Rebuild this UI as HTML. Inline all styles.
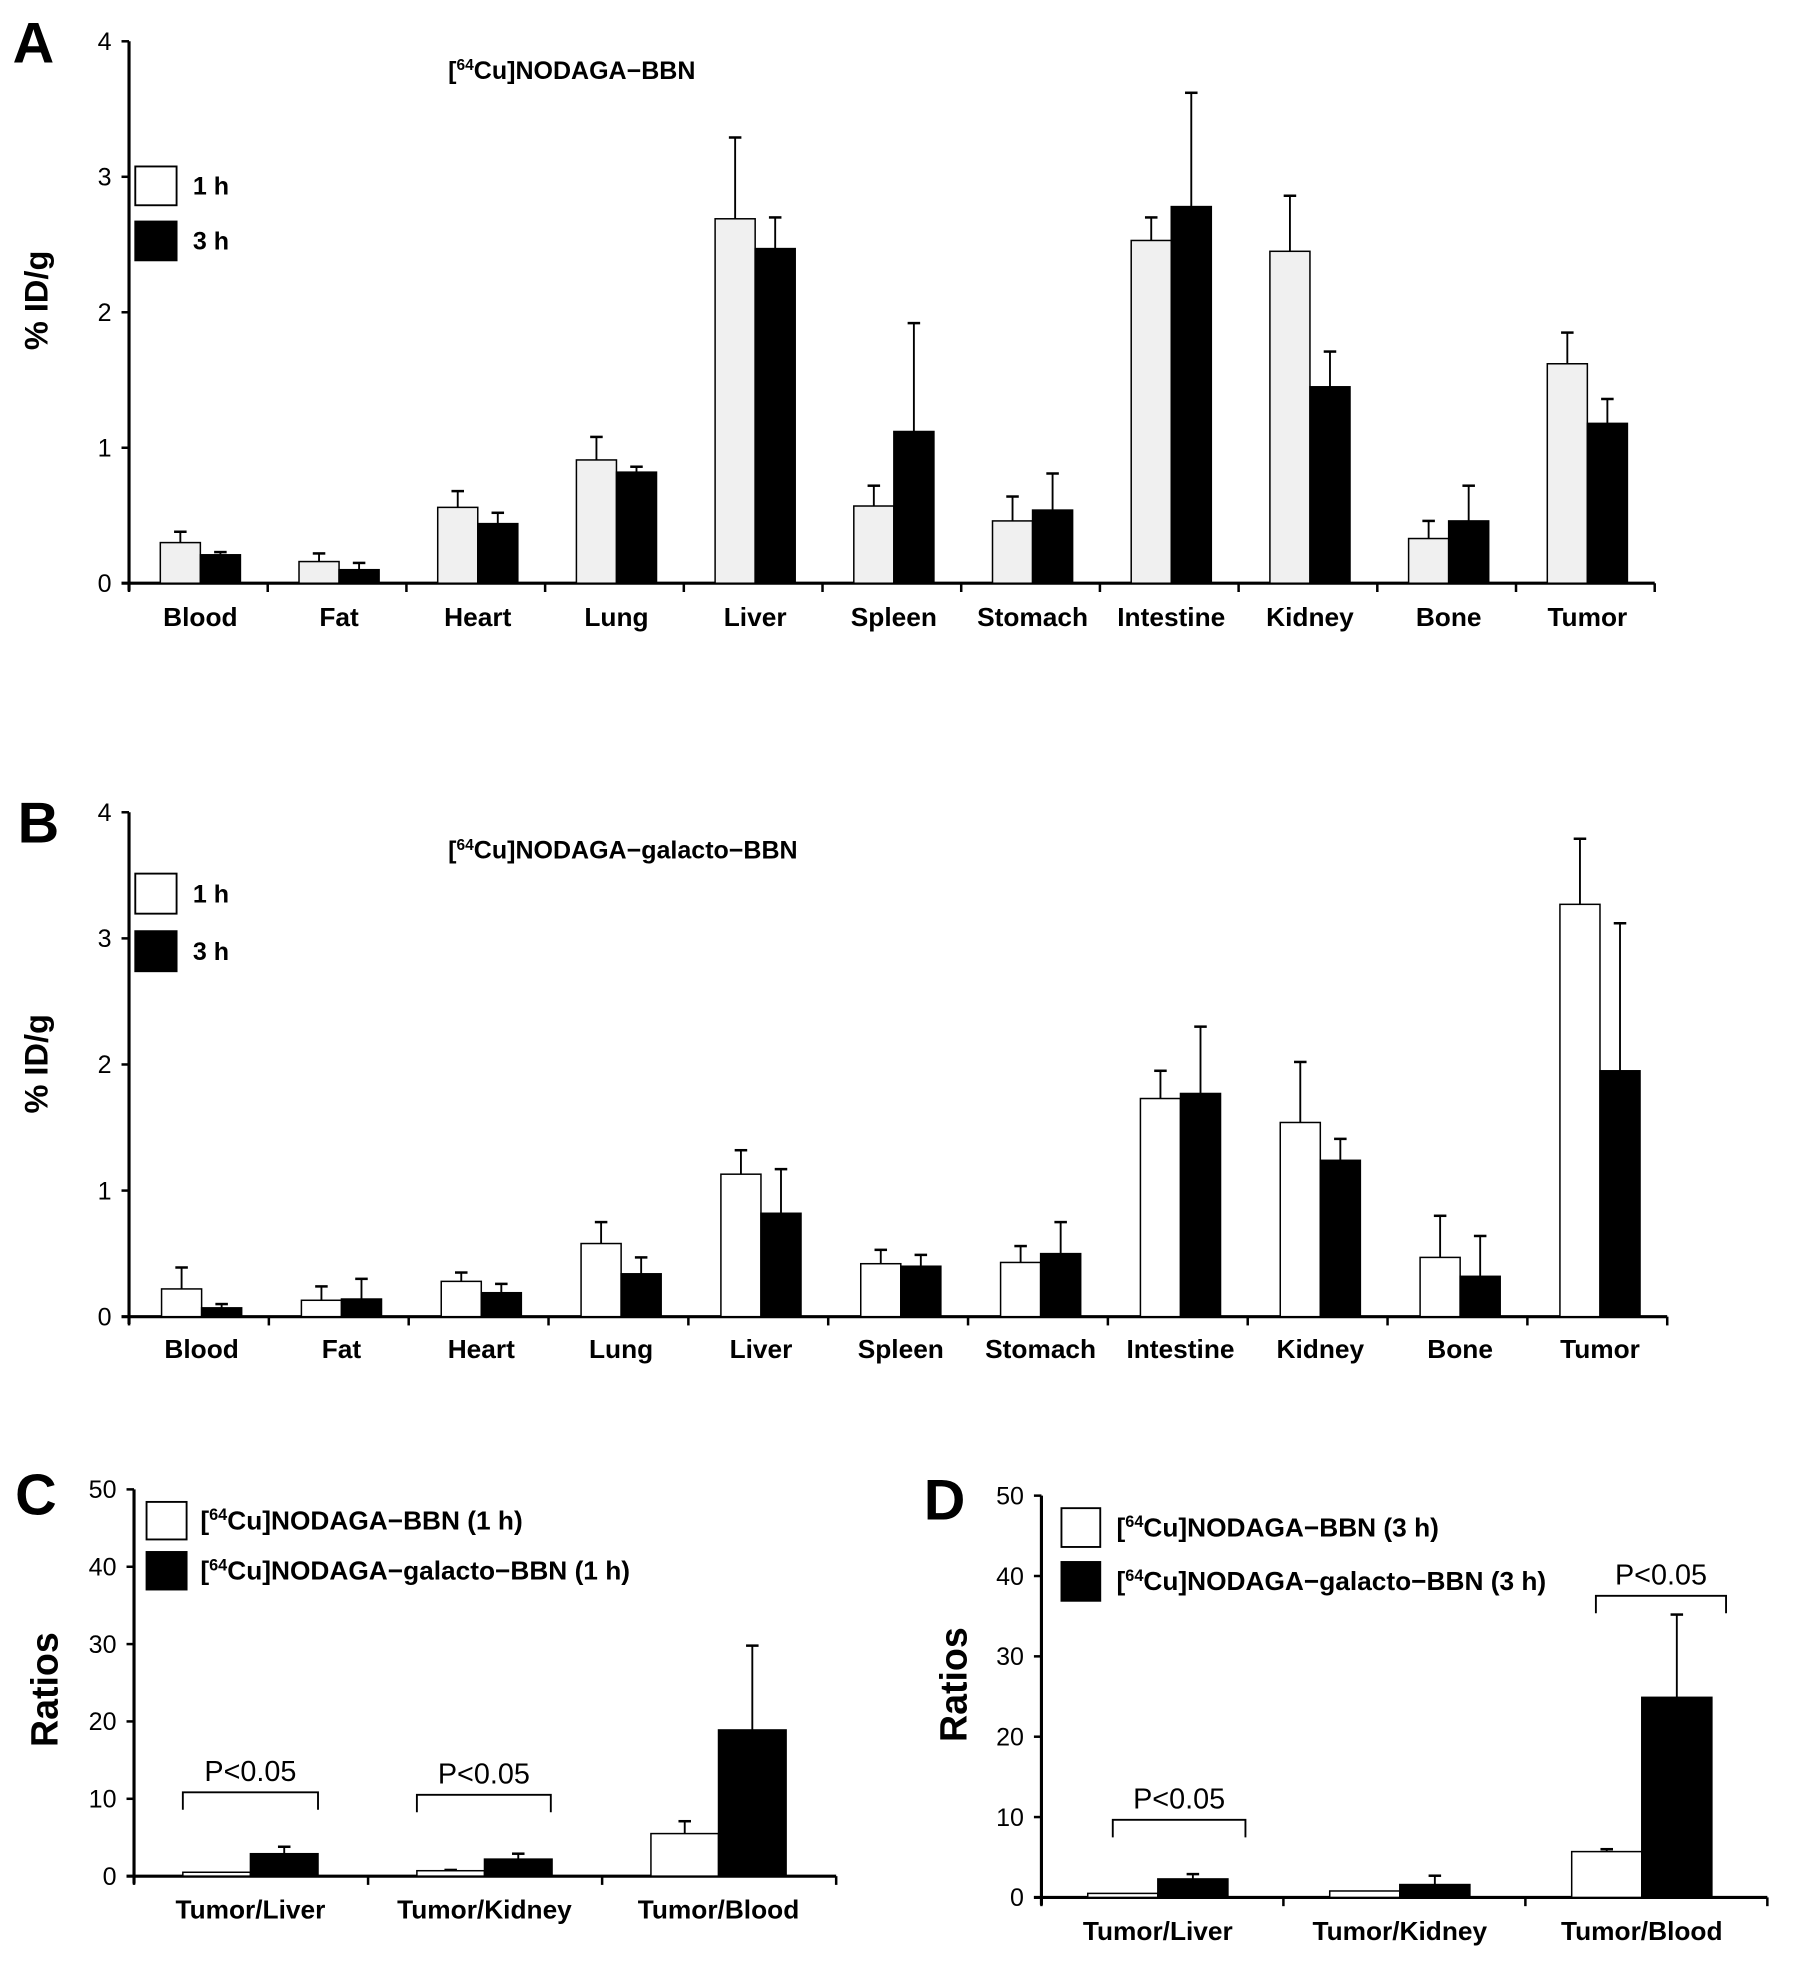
<!DOCTYPE html>
<html><head><meta charset="utf-8"><style>
html,body{margin:0;padding:0;background:#fff;}
svg{display:block;font-family:"Liberation Sans",Arial,sans-serif;}
</style></head><body>
<svg id="fig" width="1795" height="1970" viewBox="0 0 1434 1574" xmlns="http://www.w3.org/2000/svg"></svg>
<script>
// ---- data ----
const organs = ["Blood","Fat","Heart","Lung","Liver","Spleen","Stomach","Intestine","Kidney","Bone","Tumor"];
const aOneH = [0.30,0.16,0.56,0.91,2.69,0.57,0.46,2.53,2.45,0.33,1.62];
const aOneHErr = [0.08,0.06,0.12,0.17,0.60,0.15,0.18,0.17,0.41,0.13,0.23];
const aThreeH = [0.21,0.10,0.44,0.82,2.47,1.12,0.54,2.78,1.45,0.46,1.18];
const aThreeHErr = [0.02,0.05,0.08,0.04,0.23,0.80,0.27,0.84,0.26,0.26,0.18];
const bOneH = [0.22,0.13,0.28,0.58,1.13,0.42,0.43,1.73,1.54,0.47,3.27];
const bOneHErr = [0.17,0.11,0.07,0.17,0.19,0.11,0.13,0.22,0.48,0.33,0.52];
const bThreeH = [0.07,0.14,0.19,0.34,0.82,0.40,0.50,1.77,1.24,0.32,1.95];
const bThreeHErr = [0.03,0.16,0.07,0.13,0.35,0.09,0.25,0.53,0.17,0.32,1.17];
const ticksA = [0,1,2,3,4];
const ratioCats = ["Tumor/Liver","Tumor/Kidney","Tumor/Blood"];
const cBBN = [0.5,0.7,5.5];
const cBBNErr = [0,0.1,1.6];
const cGal = [2.9,2.2,18.9];
const cGalErr = [0.9,0.7,10.9];
const dBBN = [0.5,0.8,5.7];
const dBBNErr = [0,0,0.3];
const dGal = [2.3,1.6,24.9];
const dGalErr = [0.6,1.1,10.3];
const ticksC = [0,10,20,30,40,50];

const NS="http://www.w3.org/2000/svg";
const svg=document.getElementById('fig');
function el(tag,attrs,parent){const e=document.createElementNS(NS,tag);for(const k in attrs)e.setAttribute(k,attrs[k]);(parent||svg).appendChild(e);return e;}
function txt(s,x,y,size,anchor,weight,parent){const t=el('text',{x:x,y:y,'font-size':size,'text-anchor':anchor||'start','font-weight':weight||'bold',fill:'#000'},parent);t.textContent=s;return t;}

function panel(o){
  const g=el('g',{});
  
  
  const yS=v=>o.y0-(v/o.ymax)*(o.y0-o.ytop);
  const cw=(o.xEnd-o.x0)/o.cats.length;
  const ya=el('line',{x1:o.x0,y1:o.ytop,x2:o.x0,y2:o.y0+6,stroke:'#000','stroke-width':2.5},g);
  
  const xa=el('line',{x1:o.x0-6,y1:o.y0,x2:o.xEnd,y2:o.y0,stroke:'#000','stroke-width':2.5},g);
  
  o.ticks.forEach(t=>{
    el('line',{x1:o.x0-6,y1:yS(t),x2:o.x0,y2:yS(t),stroke:'#000','stroke-width':2},g);
    const tl=txt(String(t),o.x0-14,yS(t)+7,o.tickSize,'end','normal',g);
    
  });
  for(let i=0;i<=o.cats.length;i++){
    el('line',{x1:o.x0+i*cw,y1:o.y0,x2:o.x0+i*cw,y2:o.y0+7,stroke:'#000','stroke-width':2},g);
  }
  o.cats.forEach((c,i)=>{
    const cx=o.x0+i*cw+o.off+o.bw;
    const s=[[o.v1,o.e1,o.fill1],[o.v2,o.e2,'#000']];
    s.forEach((ser,k)=>{
      const x=cx-o.bw+k*o.bw, v=ser[0][i], e=ser[1][i];
      const top=yS(v+e);
      const ex=x+o.bw/2;
      if(e>0){
        const el1=el('line',{x1:ex,y1:yS(v),x2:ex,y2:top,stroke:'#000','stroke-width':1.5},g);
        
        el('line',{x1:ex-5,y1:top,x2:ex+5,y2:top,stroke:'#000','stroke-width':2},g);
      }
      const r=el('rect',{x:x,y:yS(v),width:o.bw,height:o.y0-yS(v),fill:ser[2],stroke:'#000','stroke-width':1.2},g);
      
      
    });
    const cl=txt(c,cx,o.y0+o.labDy,o.labSize,'middle','bold',g);
    
  });
  return {g,yS,cw};
}
function supLabel(parts,x,y,size,anchor,g){
  const t=el('text',{x:x,y:y,'font-size':size,'font-weight':'bold','text-anchor':anchor||'start'},g);
  const a=document.createElementNS(NS,'tspan');a.textContent='[';t.appendChild(a);
  const b=document.createElementNS(NS,'tspan');b.setAttribute('font-size',size*0.62);b.setAttribute('dy',-size*0.35);b.textContent='64';t.appendChild(b);
  const c=document.createElementNS(NS,'tspan');c.setAttribute('dy',size*0.35);c.textContent=parts;t.appendChild(c);
  return t;
}
function ylab(s,x,y,size){const t=el('text',{x:0,y:0,'font-size':size,'font-weight':'bold','text-anchor':'middle',transform:`translate(${x},${y}) rotate(-90)`});t.textContent=s;}
function letter(s,x,y){const t=txt(s,x,y,46,'start','bold');}
function legendBox(x,y,w,h,fill,label,lx,size,sup,name){
  const r=el('rect',{x:x,y:y,width:w,height:h,fill:fill,stroke:'#000','stroke-width':1.5});
  
  const t=sup?supLabel(label,lx,y+h/2+7,size):txt(label,lx,y+h/2+7,size,'start','bold');
  
}
function bracket(x1,x2,y,text,size){
  const p=el('path',{d:`M${x1},${y+14} L${x1},${y} L${x2},${y} L${x2},${y+14}`,fill:'none',stroke:'#000','stroke-width':1.5});
  
  const t=txt(text,(x1+x2)/2,y-9,size,'middle','normal');
  
}

// Panel A
letter('A',10,50);
panel({name:'panel-a-chart',cats:organs,v1:aOneH,e1:aOneHErr,v2:aThreeH,e2:aThreeHErr,fill1:'#f0f0f0',
  x0:103,xEnd:1322,y0:466,ytop:33,ymax:4,ticks:ticksA,off:25,bw:32,tickSize:20,labSize:21,labDy:34});
ylab('% ID/g',38,240,26);
{const t=supLabel('Cu]NODAGA\u2212BBN',358,63,20);}
legendBox(108,133,33,31,'#fff','1 h',154,20,false,'legend-1h-a');
legendBox(108,177,33,31,'#000','3 h',154,20,false,'legend-3h-a');

// Panel B
letter('B',14,673);
panel({name:'panel-b-chart',cats:organs,v1:bOneH,e1:bOneHErr,v2:bThreeH,e2:bThreeHErr,fill1:'#fff',
  x0:103,xEnd:1332,y0:1052,ytop:649,ymax:4,ticks:ticksA,off:26,bw:32,tickSize:20,labSize:21,labDy:33});
ylab('% ID/g',38,850,26);
{const t=supLabel('Cu]NODAGA\u2212galacto\u2212BBN',358,686,20);}
legendBox(108,698,33,32,'#fff','1 h',154,20,false,'legend-1h-b');
legendBox(108,744,33,32,'#000','3 h',154,20,false,'legend-3h-b');

// Panel C
letter('C',12,1210);
panel({name:'panel-c-chart',cats:ratioCats,v1:cBBN,e1:cBBNErr,v2:cGal,e2:cGalErr,fill1:'#fff',
  x0:107,xEnd:668,y0:1499,ytop:1190,ymax:50,ticks:ticksC,off:39,bw:54,tickSize:20,labSize:21,labDy:34});
ylab('Ratios',46,1350,30);
legendBox(117,1200,32,30,'#fff','Cu]NODAGA\u2212BBN (1 h)',160,21,true,'legend-bbn-1h');
legendBox(117,1240,32,30,'#000','Cu]NODAGA\u2212galacto\u2212BBN (1 h)',160,21,true,'legend-galacto-1h');
bracket(146,254,1432,'P<0.05',23);
bracket(333,440,1434,'P<0.05',23);

// Panel D
letter('D',738,1214);
panel({name:'panel-d-chart',cats:ratioCats,v1:dBBN,e1:dBBNErr,v2:dGal,e2:dGalErr,fill1:'#fff',
  x0:832,xEnd:1412,y0:1516,ytop:1195,ymax:50,ticks:ticksC,off:37,bw:56,tickSize:20,labSize:21,labDy:34});
ylab('Ratios',772,1346,30);
legendBox(848,1205,31,31,'#fff','Cu]NODAGA\u2212BBN (3 h)',892,21,true,'legend-bbn-3h');
legendBox(848,1248,31,31,'#000','Cu]NODAGA\u2212galacto\u2212BBN (3 h)',892,21,true,'legend-galacto-3h');
bracket(889,995,1454,'P<0.05',23);
bracket(1275,1379,1275,'P<0.05',23);
</script>
</body></html>
